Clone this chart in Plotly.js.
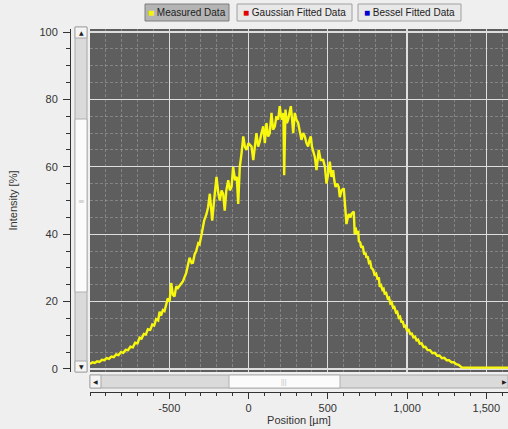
<!DOCTYPE html>
<html>
<head>
<meta charset="utf-8">
<script src="https://cdn.plot.ly/plotly-3.0.1.min.js"></script>
<style>html,body{margin:0;padding:0;background:#efefef;}#chart{width:508px;height:429px;}</style>
</head>
<body>
<div id="chart"></div>
<script>
// Position [µm]
const positions = [-1000,-985,-970,-955,-940,-925,-910,-895,-880,-865,-850,-835,-820,-805,-790,-775,-760,-745,-730,-715,-700,-687,-675,-660,-648,-635,-620,-607,-595,-583,-570,-561,-552,-540,-530,-520,-509,-498,-488,-477,-467,-456,-446,-430,-414,-393,-383,-372,-359,-351,-340,-330,-317,-309,-296,-280,-265,-255,-244,-236,-229,-215,-202,-190,-181,-170,-160,-150,-140,-128,-118,-107,-97,-85,-74,-65,-55,-44,-33,-23,-13,0,19,30,40,50,61,71,82,93,103,113,124,134,145,155,166,176,187,197,205,212,220,225,233,242,250,260,267,275,282,292,302,313,323,334,345,355,366,376,385,393,400,408,418,429,436,443,455,471,482,492,503,513,523,534,541,549,560,569,576,587,601,607,612,618,622,632,643,649,664,670,675,685,692,696,705,712,720,730,738,744,752,760,768,775,786,795,805,815,822,828,836,845,852,859,868,878,886,895,903,912,920,930,938,948,956,965,972,982,990,1000,1010,1020,1030,1040,1050,1060,1070,1080,1092,1104,1116,1130,1145,1160,1175,1190,1205,1220,1235,1250,1265,1280,1295,1310,1325,1340,1347,1400,1500,1650];
// Intensity [%]
const intensity = [1.5,2.0,1.8,2.3,2.1,2.7,2.6,3.2,3.0,3.7,3.5,4.3,4.1,5.0,4.8,5.7,5.6,6.6,6.4,7.8,7.6,9.3,9.0,10.4,10.2,11.8,11.6,13.2,12.9,14.8,14.4,17,15.8,17.5,17.2,19.5,21,20,25.5,22,21.5,24.5,24,25,26,28.5,31,33,31.4,31.5,34,35,37.3,37,40,44,46,48,52,47,44,51,57,52,50,53,52,47,53,56,53,54,60,56,57,49,60,64,69,66,65,67,66,62,67,70,66,67.5,70,72,67,73,69,70,76,71,72,75,74,78,75,74,76,57.5,77,73,74,76,78,74,70,76,74,73,71,68,70,69,67,66,68,69,66,64.5,63,59,63,65,62,62,60,55,58,61.5,57,59,56,54,55,54,51,53,53.6,50,49,43,44,46,45,46,46.7,40,42,40,41,38,37.5,36,36.5,34,34.5,33,33.4,31.5,31.8,30,29.5,28,28.3,26.5,27.2,24.4,24.8,23.5,23.8,22.4,22.6,21,21.2,19.5,19.8,18.2,18.4,16.8,17,15.2,15.5,13.8,14.2,12.6,12.8,11.4,11.6,10.4,10.5,9.4,9.6,8.5,8.7,7.5,7.6,6.5,6.6,5.6,5.6,4.7,4.8,3.9,4.0,3.2,3.3,2.6,2.6,2.0,2.0,1.4,1.2,0.6,0.4,0.4,0.4,0.4];

const xTickVals = [-500,0,500,1000,1500];
const xTickText = ['-500','0','500','1,000','1,500'];
const yTickVals = [0,20,40,60,80,100];
const yTickText = ['0','20','40','60','80','100'];
const legendNames = ['Measured Data','Gaussian Fitted Data','Bessel Fitted Data'];
const legendColors = ['#f5f500','#e00000','#0000d0'];

// pixel -> paper helpers
const L=70, R=508, T=29, B=392;
const PX = p => (p-L)/(R-L);
const PY = p => (B-p)/(B-T);

const shapes = [];
const annotations = [];
function rect(x0,y0,x1,y1,fill,line){
  shapes.push({type:'rect',xref:'paper',yref:'paper',x0:PX(x0),x1:PX(x1),y0:PY(y1),y1:PY(y0),
    fillcolor:fill,line:{color:line,width:1},layer:'above'});
}
function label(x,y,text,size,color,family){
  annotations.push({xref:'paper',yref:'paper',x:PX(x),y:PY(y),xanchor:'center',yanchor:'middle',
    text:text,showarrow:false,font:{size:size,color:color,family:family||'Liberation Sans, Arial'}});
}
// vertical scrollbar
rect(75,27,87,372,'#dadada','#a8a8a8');
rect(75,119,87,292,'#fbfbfb','#b0b0b0');
rect(75,27,87,38,'#f4f4f4','#a8a8a8');
rect(75,361,87,372,'#f4f4f4','#a8a8a8');
label(81,32.5,'▲',6,'#222','DejaVu Sans');
label(81,366.5,'▼',6,'#222','DejaVu Sans');
label(81,201,'≡',8,'#c0c0c0','DejaVu Sans');
// horizontal scrollbar
rect(90,375,508,388,'#dadada','#a8a8a8');
rect(229,375,340,388,'#fbfbfb','#b0b0b0');
rect(90,375,101,388,'#f4f4f4','#a8a8a8');
label(95.5,381.5,'◀',6,'#222','DejaVu Sans');
label(504,381.5,'▶',6,'#222','DejaVu Sans');
label(284,381.5,'|||',7,'#c0c0c0');
// legend buttons
const btn = [[145,229,'#b4b4b4','#7c7c7c'],[237,352,'#e8e8e8','#a0a0a0'],[358,461,'#e8e8e8','#a0a0a0']];
btn.forEach((b,i)=>{
  rect(b[0],4,b[1],21,b[2],b[3]);
  label((b[0]+b[1])/2,12.5,'<span style="color:'+legendColors[i]+'">■</span> '+legendNames[i],10,'#222');
});

const trace = {x:positions,y:intensity,type:'scatter',mode:'lines',
  line:{color:'#f8f80e',width:2.4},hoverinfo:'skip'};

const axFont = {family:'Liberation Sans, Arial',size:11,color:'#333'};
const layout = {
  width:508,height:429,
  margin:{l:L,r:0,t:T,b:429-B,pad:0},
  paper_bgcolor:'#efefef',plot_bgcolor:'#5e5e5e',
  showlegend:false,
  xaxis:{domain:[PX(90),1],range:[-1000,1637],anchor:'free',position:0,
    tickvals:xTickVals,ticktext:xTickText,showline:true,linecolor:'#333',linewidth:1,
    ticks:'outside',ticklen:6,tickcolor:'#333',tickfont:axFont,
    showgrid:true,gridcolor:'#dedede',gridwidth:1.3,zeroline:false,
    minor:{dtick:100,tick0:0,ticks:'outside',ticklen:3,tickcolor:'#333',showgrid:true,gridcolor:'rgba(170,170,170,0.5)',griddash:'3px,2px',gridwidth:1},
    title:{text:'Position [µm]',font:axFont,standoff:2}},
  yaxis:{domain:[PY(372),1],range:[-0.9,100.9],anchor:'free',position:0,
    tickvals:yTickVals,ticktext:yTickText,showline:true,linecolor:'#333',linewidth:1,
    ticks:'outside',ticklen:7,tickcolor:'#333',tickfont:axFont,ticklabelstandoff:3,
    showgrid:true,gridcolor:'#dedede',gridwidth:1.3,zeroline:false,
    minor:{dtick:5,tick0:0,ticks:'outside',ticklen:4,tickcolor:'#333',showgrid:true,gridcolor:'rgba(170,170,170,0.5)',griddash:'3px,2px',gridwidth:1},
    title:{text:'Intensity [%]',font:axFont,standoff:18}},
  shapes:shapes,annotations:annotations
};
Plotly.newPlot('chart',[trace],layout,{staticPlot:true,displayModeBar:false});
</script>
</body>
</html>
